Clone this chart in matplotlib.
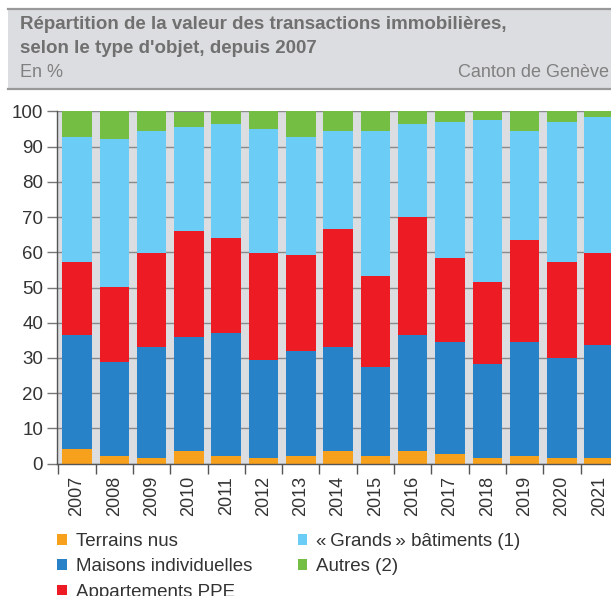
import numpy as np
import matplotlib.pyplot as plt
from matplotlib.patches import Rectangle
from matplotlib.lines import Line2D

plt.rcParams['font.family'] = ['Liberation Sans', 'DejaVu Sans']

annees = ['2007', '2008', '2009', '2010', '2011', '2012', '2013', '2014',
          '2015', '2016', '2017', '2018', '2019', '2020', '2021']
terrains = [4.1, 2.2, 1.6, 3.5, 2.2, 1.6, 2.2, 3.5, 2.2, 3.5, 2.8, 1.6, 2.2, 1.6, 1.6]
maisons = [32.4, 26.5, 31.6, 32.3, 34.8, 27.8, 29.7, 29.7, 25.3, 32.9, 31.6, 26.6, 32.2, 28.4, 32.2]
ppe = [20.8, 21.5, 26.5, 30.3, 27.2, 30.3, 27.2, 33.4, 25.9, 33.5, 24.1, 23.3, 29.1, 27.2, 25.9]
grands = [35.4, 41.9, 34.8, 29.6, 32.2, 35.4, 33.6, 27.9, 41.1, 26.5, 38.5, 46.1, 31.0, 39.8, 38.6]
autres = [7.3, 7.9, 5.5, 4.3, 3.6, 4.9, 7.3, 5.5, 5.5, 3.6, 3.0, 2.4, 5.5, 3.0, 1.7]

series = [terrains, maisons, ppe, grands, autres]
noms = ['Terrains nus', 'Maisons individuelles', 'Appartements PPE',
        '\u00ab\u202fGrands\u202f\u00bb b\u00e2timents (1)', 'Autres (2)']
couleurs = ['#F7A01C', '#2882C8', '#ED1C24', '#6BCDF5', '#74BE43']

W, H = 611, 596
fig = plt.figure(figsize=(W / 100, H / 100), dpi=100)

# bandeau du titre
fig.patches.append(Rectangle((8 / W, 1 - 89 / H), 1, 81 / H, transform=fig.transFigure,
                             facecolor='#DCDDE0', edgecolor='none', zorder=0))
for yy in (8.5, 89):
    fig.lines.append(Line2D([8 / W, 1], [1 - yy / H] * 2, transform=fig.transFigure,
                            color='#999999', lw=1.6))
gris = '#707070'
fig.text(20 / W, 1 - 29 / H, "R\u00e9partition de la valeur des transactions immobili\u00e8res,",
         fontsize=13.5, fontweight='bold', color=gris, va='baseline')
fig.text(20 / W, 1 - 53 / H, "selon le type d'objet, depuis 2007",
         fontsize=13.5, fontweight='bold', color=gris, va='baseline')
fig.text(20 / W, 1 - 77 / H, "En %", fontsize=13, color='#808080', va='baseline')
fig.text(609 / W, 1 - 77 / H, "Canton de Gen\u00e8ve", fontsize=13, color='#808080',
         va='baseline', ha='right')

# zone du graphique
px = 37.3
x0 = -20 / px
x1 = 14.6
ax = fig.add_axes([57 / W, (H - 463.5) / H, (x1 - x0) * px / W, 352 / H])
ax.set_facecolor('#DCDDE0')

x = np.arange(len(annees))
bas = np.zeros(len(annees))
for vals, nom, c in zip(series, noms, couleurs):
    ax.bar(x, vals, 0.79, bottom=bas, color=c, label=nom, zorder=2)
    bas += np.array(vals)

ax.set_xlim(x0, x1)
ax.set_ylim(0, 100)
ax.set_yticks(np.arange(0, 101, 10))
ax.yaxis.grid(True, color='#8A8A8A', lw=1, zorder=1)
ax.set_axisbelow(True)
ax.tick_params(axis='y', length=7, width=1, color='#777777', labelsize=13.5,
               labelcolor='#333333', pad=3)

ax.set_xticks(x)
ax.set_xticklabels(annees, rotation=90, fontsize=13, color='#333333')
ax.tick_params(axis='x', which='major', length=0, pad=9)
ax.set_xticks(np.arange(-0.5, 15, 1), minor=True)
ax.tick_params(axis='x', which='minor', length=7.5, width=1, color='#555555')

for s in ('top', 'right'):
    ax.spines[s].set_visible(False)
for s in ('left', 'bottom'):
    ax.spines[s].set_color('#555555')
    ax.spines[s].set_linewidth(1)

h, l = ax.get_legend_handles_labels()
fig.legend(h, l, ncol=2, loc='upper left', bbox_to_anchor=(40.5 / W, 1 - 516 / H),
           frameon=False, fontsize=13.5, handlelength=0.5, handleheight=0.5,
           handletextpad=0.48, labelspacing=0.45, columnspacing=2.45,
           borderpad=0.4, labelcolor='#333333')

fig.savefig('out.png', dpi=100)
